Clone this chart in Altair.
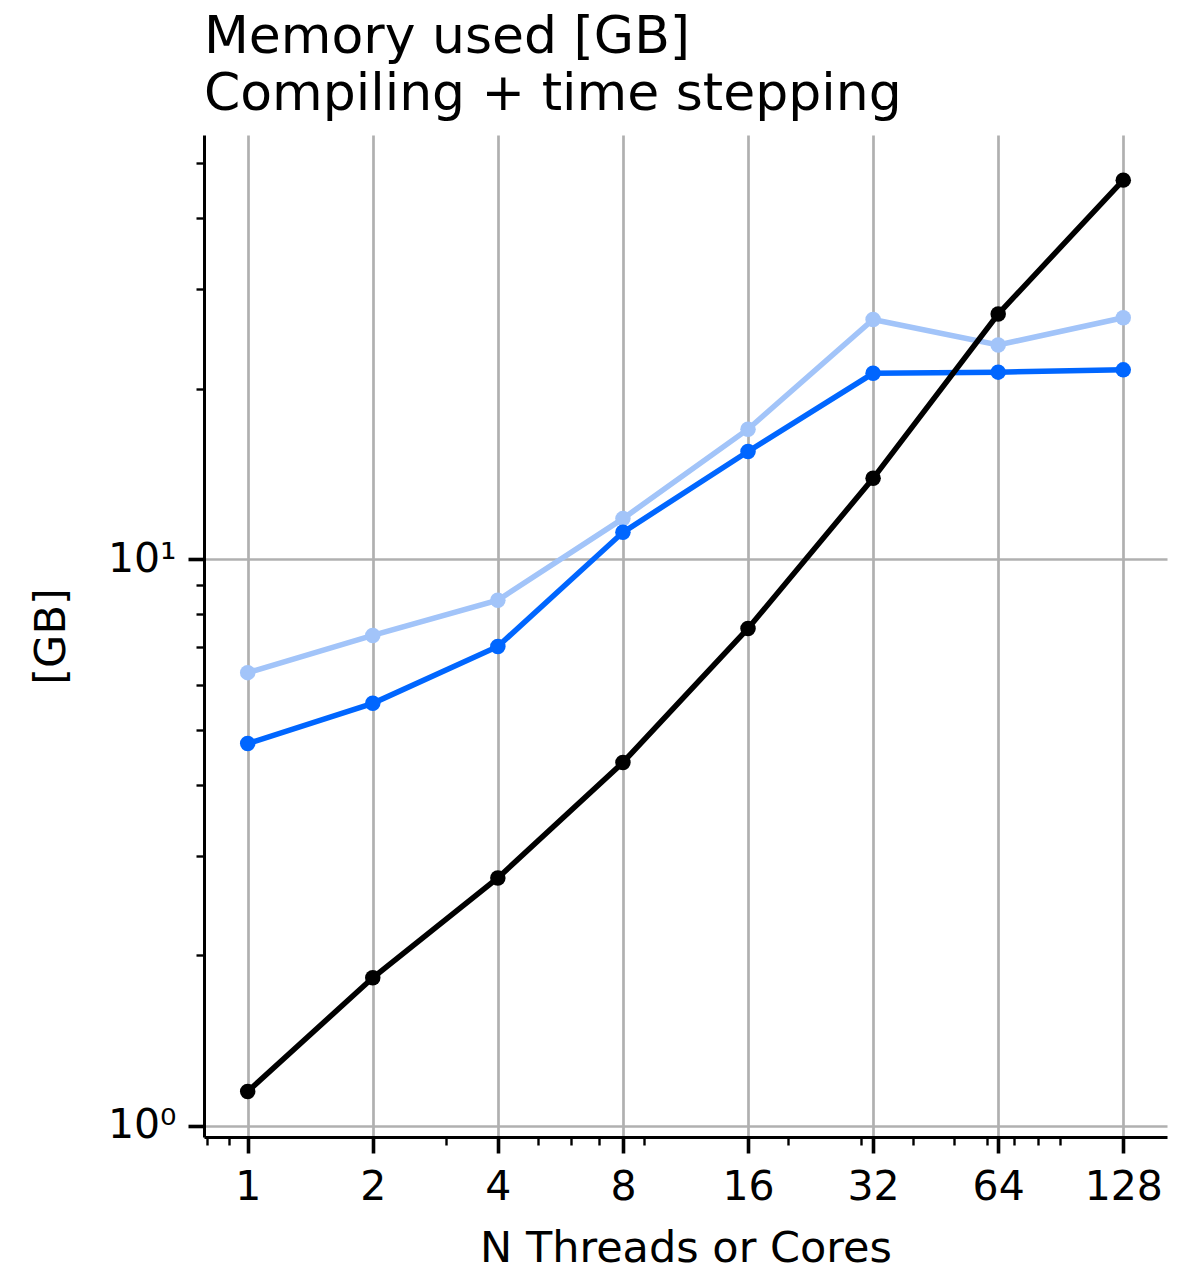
import altair as alt
import pandas as pd

# ---- data ----
threads = [1, 2, 4, 8, 16, 32, 64, 128]
mem_light = [6.31, 7.34, 8.47, 11.8, 16.97, 26.5, 23.9, 26.7]
mem_blue = [4.73, 5.57, 7.02, 11.16, 15.5, 21.3, 21.4, 21.6]
mem_black = [1.15, 1.826, 2.74, 4.38, 7.55, 13.9, 27.1, 46.7]

series_names = ["light", "blue", "black"]
series_colors = ["#a2c4f9", "#0066ff", "#000000"]

x_major = [1, 2, 4, 8, 16, 32, 64, 128]
x_minor = [0.8, 0.9, 3, 5, 6, 7, 9, 20, 30, 40, 50, 60, 70, 80, 90]
y_major = [1, 10]
y_minor = [2, 3, 4, 5, 6, 7, 8, 9, 20, 30, 40, 50]

title_lines = ["Memory used [GB]", "Compiling + time stepping"]
x_title = "N Threads or Cores"
y_title = "[GB]"

rows = []
for name, vals in zip(series_names, [mem_light, mem_blue, mem_black]):
    for t, v in zip(threads, vals):
        rows.append({"threads": t, "mem": v, "series": name})
df = pd.DataFrame(rows)

FONT = "DejaVu Sans"
xmaj_test = "indexof([" + ",".join(str(v) for v in x_major) + "], datum.value) >= 0"
ymaj_test = "indexof([" + ",".join(str(v) for v in y_major) + "], datum.value) >= 0"

x_scale = alt.Scale(type="log", base=2, domain=[0.785, 163.1], nice=False)
y_scale = alt.Scale(type="log", base=10, domain=[0.956, 56.1], nice=False)

x_axis = alt.Axis(
    values=x_major + x_minor,
    labelExpr=f"{xmaj_test} ? '' + datum.value : ''",
    labelOverlap=False,
    labelFlush=False,
    labelFont=FONT,
    labelFontSize=41,
    labelColor="black",
    labelPadding=14,
    tickSize={"condition": {"test": xmaj_test, "value": 16}, "value": 8},
    tickWidth={"condition": {"test": xmaj_test, "value": 3.6}, "value": 2.4},
    tickColor="black",
    grid=True,
    gridColor="#b0b0b0",
    gridWidth=2.7,
    gridOpacity={"condition": {"test": xmaj_test, "value": 1}, "value": 0},
    domainColor="black",
    domainWidth=3,
    title=x_title,
    titleFont=FONT,
    titleFontSize=43,
    titleFontWeight="normal",
    titleColor="black",
    titlePadding=20,
)

y_axis = alt.Axis(
    values=y_major + y_minor,
    labelExpr="datum.value == 1 ? '10\u2070' : datum.value == 10 ? '10\u00b9' : ''",
    labelOverlap=False,
    labelFlush=False,
    labelFont=FONT,
    labelFontSize=41,
    labelColor="black",
    labelPadding=12,
    tickSize={"condition": {"test": ymaj_test, "value": 16}, "value": 8},
    tickWidth={"condition": {"test": ymaj_test, "value": 3.6}, "value": 2.4},
    tickColor="black",
    grid=True,
    gridColor="#b0b0b0",
    gridWidth=2.7,
    gridOpacity={"condition": {"test": ymaj_test, "value": 1}, "value": 0},
    domainColor="black",
    domainWidth=3,
    title=y_title,
    titleFont=FONT,
    titleFontSize=43,
    titleFontWeight="normal",
    titleColor="black",
    titlePadding=34,
)

color = alt.Color("series:N", scale=alt.Scale(domain=series_names, range=series_colors), legend=None)

base = alt.Chart(df).encode(
    x=alt.X("threads:Q", scale=x_scale, axis=x_axis),
    y=alt.Y("mem:Q", scale=y_scale, axis=y_axis),
    color=color,
)

lines = base.mark_line(strokeWidth=5.5, clip=True).encode(
    detail="series:N", order="threads:Q"
)
points = base.mark_point(filled=True, size=240, opacity=1, shape="circle")

chart = alt.layer(lines, points).properties(
    width=963,
    height=1002,
    title=alt.TitleParams(
        text=title_lines,
        anchor="start",
        frame="group",
        font=FONT,
        fontSize=52,
        fontWeight="normal",
        color="black",
        lineHeight=57,
        offset=14,
    ),
    autosize=alt.AutoSizeParams(type="none"),
    padding={"left": 204, "top": 135, "right": 13, "bottom": 146},
).configure_view(strokeWidth=0)

chart.save("out.html", embed_options={"renderer": "svg", "actions": False})
